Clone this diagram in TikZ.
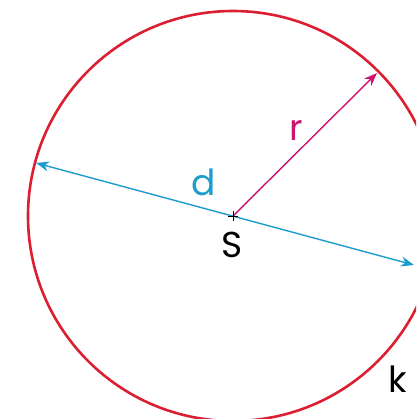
\documentclass[tikz,border=0pt]{standalone}
\usepackage{fontspec}
\setmainfont{Poppins}
\usetikzlibrary{arrows.meta}
\definecolor{circred}{HTML}{DC1F30}
\definecolor{radmag}{HTML}{CC1470}
\definecolor{diacyan}{HTML}{1E9CCB}
\begin{document}
\begin{tikzpicture}[x=1pt,y=-1pt,
  lbl/.style={font=\fontsize{36}{36}\selectfont, inner sep=0pt},
  arr/.style={line width=1.4pt, -{Stealth[length=13pt,width=10pt,inset=4pt]}}]
\useasboundingbox (0,0) rectangle (416,419);
\clip (0,0) rectangle (416,419);
\coordinate (S) at (233,216);
\draw[circred, line width=2.6pt] (S) circle[radius=205];
\coordinate (A) at (36,163);
\coordinate (B) at (414,265);
\coordinate (R) at (377,73);
\draw[diacyan, line width=1.4pt, {Stealth[length=13pt,width=10pt,inset=4pt]}-{Stealth[length=13pt,width=10pt,inset=4pt]}] (A) -- (B);
\draw[radmag, arr] (S) -- (R);
\draw[line width=1pt] (S) ++(-5,0) -- ++(10,0) (S) ++(0,-5) -- ++(0,10);
\node[lbl, text=diacyan] (d) at (204,182) {d};
\node[lbl, text=radmag] (r) at (296,130) {r};
\node[lbl] (s) at (232,245) {S};
\node[lbl] (k) at (398,379) {k};
\end{tikzpicture}
\end{document}
